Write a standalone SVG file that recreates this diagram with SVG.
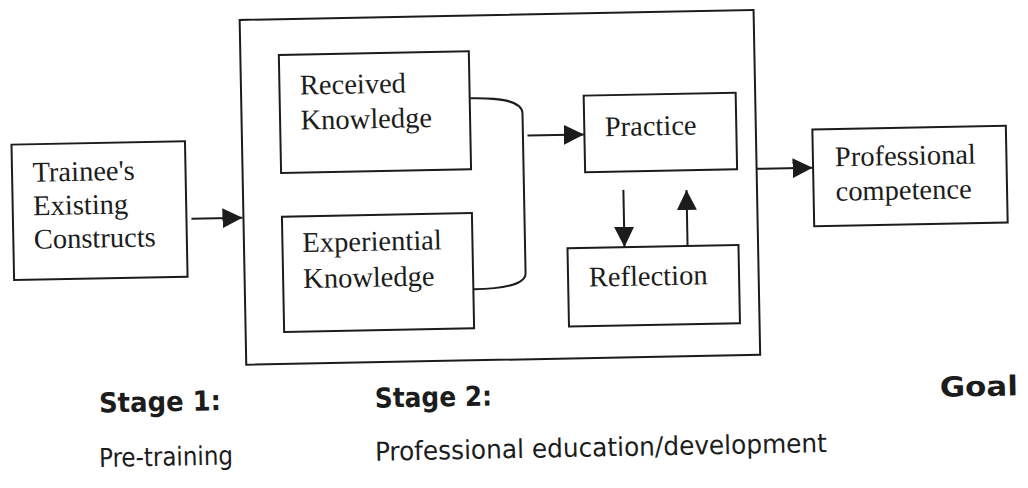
<svg xmlns="http://www.w3.org/2000/svg" width="1028" height="488" viewBox="0 0 1028 488">
  <defs>
    <marker id="arrow" viewBox="0 0 20 20" refX="20" refY="10" markerWidth="20" markerHeight="20" markerUnits="userSpaceOnUse" orient="auto">
      <path d="M0,0 L20,10 L0,20 Z" fill="#1c1c1c"/>
    </marker>
    <style>
      .box { fill: none; stroke: #1c1c1c; stroke-width: 2; }
      .lbl { font-family: "Liberation Serif", "Times New Roman", serif; font-size: 28.5px; fill: #1c1c1c; }
      .conn { fill: none; stroke: #1c1c1c; stroke-width: 2; }
      .stage { font-family: "DejaVu Sans Condensed", "DejaVu Sans", sans-serif; font-stretch: condensed; font-weight: bold; font-size: 27.5px; fill: #1c1c1c; }
      .phase { font-family: "DejaVu Sans Condensed", "DejaVu Sans", sans-serif; font-stretch: condensed; font-size: 26px; fill: #1c1c1c; }
    </style>
  </defs>
  <rect width="1028" height="488" fill="#ffffff"/>
  <g transform="rotate(-1.1 514 244)">
    <!-- outer frame of stage 2 -->
    <g id="stage2-frame">
      <rect class="box" x="244" y="14.7" width="514" height="344.8"/>
    </g>

    <g id="trainee">
      <rect class="box" x="13.5" y="135" width="173.5" height="135.5"/>
      <text class="lbl" x="34" y="172.5">Trainee's</text>
      <text class="lbl" x="34" y="206">Existing</text>
      <text class="lbl" x="34" y="239.5">Constructs</text>
    </g>

    <g id="received">
      <rect class="box" x="282.5" y="50.5" width="190" height="118"/>
      <text class="lbl" x="303" y="90.5">Received</text>
      <text class="lbl" x="303" y="125.5">Knowledge</text>
    </g>

    <g id="experiential">
      <rect class="box" x="282.5" y="212.2" width="190" height="115.3"/>
      <text class="lbl" x="302.5" y="248">Experiential</text>
      <text class="lbl" x="302.5" y="284">Knowledge</text>
    </g>

    <g id="practice">
      <rect class="box" x="586.5" y="97" width="152" height="76.6"/>
      <text class="lbl" x="607" y="138">Practice</text>
    </g>

    <g id="reflection">
      <rect class="box" x="567.4" y="249.3" width="171" height="78.3"/>
      <text class="lbl" x="588.2" y="288">Reflection</text>
    </g>

    <g id="competence">
      <rect class="box" x="814.5" y="135.2" width="193.5" height="96.8"/>
      <text class="lbl" x="836.5" y="172.5">Professional</text>
      <text class="lbl" x="836.5" y="207">competence</text>
    </g>

    <g id="connectors">
      <path class="conn" d="M192,212.6 H243" marker-end="url(#arrow)"/>
      <!-- bracket joining both kinds of knowledge -->
      <path class="conn" d="M473,97.5 C500,97.5 525,100 525,113.5 V273.5 C525,285 500,288.5 473,288.5"/>
      <path class="conn" d="M529.6,135.8 H586" marker-end="url(#arrow)"/>
      <path class="conn" d="M624.4,192 V249" marker-end="url(#arrow)"/>
      <path class="conn" d="M687.5,249.3 V193.3" marker-end="url(#arrow)"/>
      <path class="conn" d="M758,173.5 H814" marker-end="url(#arrow)"/>
    </g>

    <g id="stage-labels">
      <text class="stage" x="96" y="404.5" textLength="122" lengthAdjust="spacingAndGlyphs">Stage 1:</text>
      <text class="stage" x="372" y="405" textLength="117" lengthAdjust="spacingAndGlyphs">Stage 2:</text>
      <text class="stage" x="937" y="405" textLength="78" lengthAdjust="spacingAndGlyphs">Goal</text>
      <text class="phase" x="95" y="459" textLength="134" lengthAdjust="spacingAndGlyphs">Pre-training</text>
      <text class="phase" x="371" y="458" textLength="452" lengthAdjust="spacingAndGlyphs">Professional education/development</text>
    </g>
  </g>
</svg>
